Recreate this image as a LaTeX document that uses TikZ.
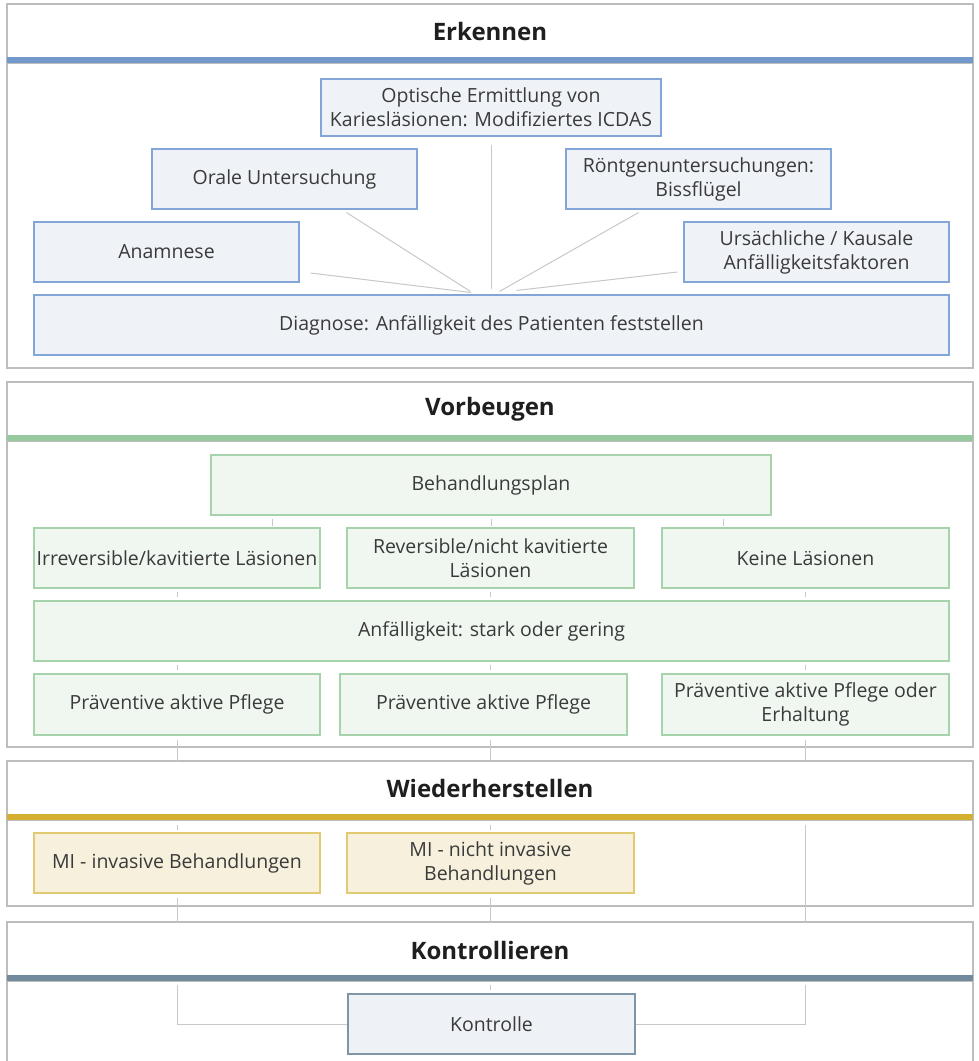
\documentclass[tikz,border=0pt]{standalone}
\usepackage{fontspec}
\setmainfont{Open Sans}
\usetikzlibrary{calc}

\definecolor{frame}{HTML}{BDBDBD}
\definecolor{linkgray}{HTML}{C8C8C8}
\definecolor{inktext}{HTML}{3A3A3A}
\definecolor{erkBand}{HTML}{7399CC}
\definecolor{erkLine}{HTML}{83A6D8}
\definecolor{erkFill}{HTML}{EFF3F8}
\definecolor{vorBand}{HTML}{96CA9E}
\definecolor{vorLine}{HTML}{A6D3AB}
\definecolor{vorFill}{HTML}{F0F7F0}
\definecolor{wieBand}{HTML}{D4AF32}
\definecolor{wieLine}{HTML}{E2CA72}
\definecolor{wieFill}{HTML}{F6F0DC}
\definecolor{konBand}{HTML}{718B9C}
\definecolor{konLine}{HTML}{7F95A5}
\definecolor{konFill}{HTML}{EEF2F6}

\begin{document}
\begin{tikzpicture}[x=1pt,y=-1pt,
    box/.style={draw, line width=1.1pt, minimum height=60pt, inner sep=2pt,
      align=center, text=inktext, font=\fontsize{19.5}{24}\selectfont},
    erk/.style={box, draw=erkLine, fill=erkFill},
    vor/.style={box, draw=vorLine, fill=vorFill},
    wie/.style={box, draw=wieLine, fill=wieFill},
    kon/.style={box, draw=konLine, fill=konFill},
    panel/.style={draw=frame, line width=1.2pt, fill=white},
    link/.style={draw=linkgray, line width=1pt},
    heading/.style={font=\fontsize{24}{28}\selectfont\bfseries, text=black!88}]
  \useasboundingbox (0,0) rectangle (978,1061);

  % panels
  \draw[panel] (7,4) rectangle (973,368);
  \draw[panel] (7,382) rectangle (973,747);
  \draw[panel] (7,761) rectangle (973,906);
  \draw[panel] (7,1075) -- (7,922) -- (973,922) -- (973,1075);

  % Erkennen
  \node[erk, minimum width=340pt, minimum height=57pt] (opt) at (491,107.5)
    {Optische Ermittlung von\\Kariesläsionen: Modifiziertes ICDAS};
  \node[erk, minimum width=265pt] (orale) at (284.5,179) {Orale Untersuchung};
  \node[erk, minimum width=265pt] (roent) at (698.5,179) {Röntgenuntersuchungen:\\Bissflügel};
  \node[erk, minimum width=265pt] (anam) at (166.5,252) {Anamnese};
  \node[erk, minimum width=265pt] (urs) at (816.5,252) {Ursächliche / Kausale\\Anfälligkeitsfaktoren};
  \node[erk, minimum width=915pt] (diag) at (491.5,325) {Diagnose: Anfälligkeit des Patienten feststellen};

  \draw[link] ($(anam.east)+(11,21)$) -- ($(diag.north)+(-21,-2)$);
  \draw[link] ($(orale.south)+(62,3)$) -- ($(diag.north)+(-21,-3)$);
  \draw[link, shorten <=8pt, shorten >=5pt] (opt.south) -- (opt.south |- diag.north);
  \draw[link] ($(roent.south)+(-60,3)$) -- ($(diag.north)+(8,-3)$);
  \draw[link] ($(urs.west)+(-6,20)$) -- ($(diag.north)+(25,-4)$);

  % Vorbeugen
  \node[vor, minimum width=560pt] (plan) at (491,485) {Behandlungsplan};
  \node[vor, minimum width=286pt] (irr) at (177,558) {Irreversible/kavitierte Läsionen};
  \node[vor, minimum width=287pt] (rev) at (490.5,558) {Reversible/nicht kavitierte\\Läsionen};
  \node[vor, minimum width=287pt] (keine) at (805.5,558) {Keine Läsionen};
  \node[vor, minimum width=915pt] (anf) at (491.5,631) {Anfälligkeit: stark oder gering};
  \node[vor, minimum width=286pt, minimum height=61pt] (prae1) at (177,704.5) {Präventive aktive Pflege};
  \node[vor, minimum width=287pt, minimum height=61pt] (prae2) at (483.5,704.5) {Präventive aktive Pflege};
  \node[vor, minimum width=287pt, minimum height=61pt] (prae3) at (805.5,704.5) {Präventive aktive Pflege oder\\Erhaltung};

  \foreach \dx in {-219,0,232}
    \draw[link] ([xshift=\dx pt]plan.south) ++(0,3) -- ++(0,7);
  \foreach \n in {irr,rev,keine} {
    \draw[link, shorten <=3pt, shorten >=3pt] (\n.south) -- (\n.south |- anf.north);
    \draw[link, shorten <=3pt, shorten >=3pt] (\n.south |- anf.south) -- (\n.south |- prae1.north);
  }

  % Wiederherstellen
  \node[wie, minimum width=286pt] (mi1) at (177,863) {MI - invasive Behandlungen};
  \node[wie, minimum width=287pt] (mi2) at (490.5,863) {MI - nicht invasive\\Behandlungen};

  % Kontrollieren
  \node[kon, minimum width=287pt] (ctrl) at (491.5,1024) {Kontrolle};

  \draw[link, shorten <=4pt, shorten >=2pt] (prae1.south) -- (mi1.north);
  \draw[link, shorten <=4pt, shorten >=2pt] (mi2.north |- prae2.south) -- (mi2.north);
  \draw[link, shorten <=4pt] (prae3.south) |- (ctrl.east);
  \draw[link, shorten <=4pt] (mi1.south) |- (ctrl.west);
  \draw[link, shorten <=4pt, shorten >=3pt] (mi2.south) -- (mi2.south |- ctrl.north);

  % headers
  \fill[white] (7.6,4.6) rectangle (972.4,68);
  \fill[erkBand] (7,57) rectangle (973,63);
  \draw[frame, line width=1.2pt] (7,63.6) -- (973,63.6);
  \node[heading] (tErk) at (490,31) {Erkennen};

  \fill[white] (7.6,382.6) rectangle (972.4,446);
  \fill[vorBand] (7,435) rectangle (973,441);
  \draw[frame, line width=1.2pt] (7,441.6) -- (973,441.6);
  \node[heading] (tVor) at (490,409) {Vorbeugen};

  \fill[white] (7.6,761.6) rectangle (972.4,825);
  \fill[wieBand] (7,814) rectangle (973,820);
  \draw[frame, line width=1.2pt] (7,820.6) -- (973,820.6);
  \node[heading] (tWie) at (490,788) {Wiederherstellen};

  \fill[white] (7.6,922.6) rectangle (972.4,985);
  \fill[konBand] (7,975) rectangle (973,981);
  \draw[frame, line width=1.2pt] (7,981.6) -- (973,981.6);
  \node[heading] (tKon) at (490,950) {Kontrollieren};
\end{tikzpicture}
\end{document}
